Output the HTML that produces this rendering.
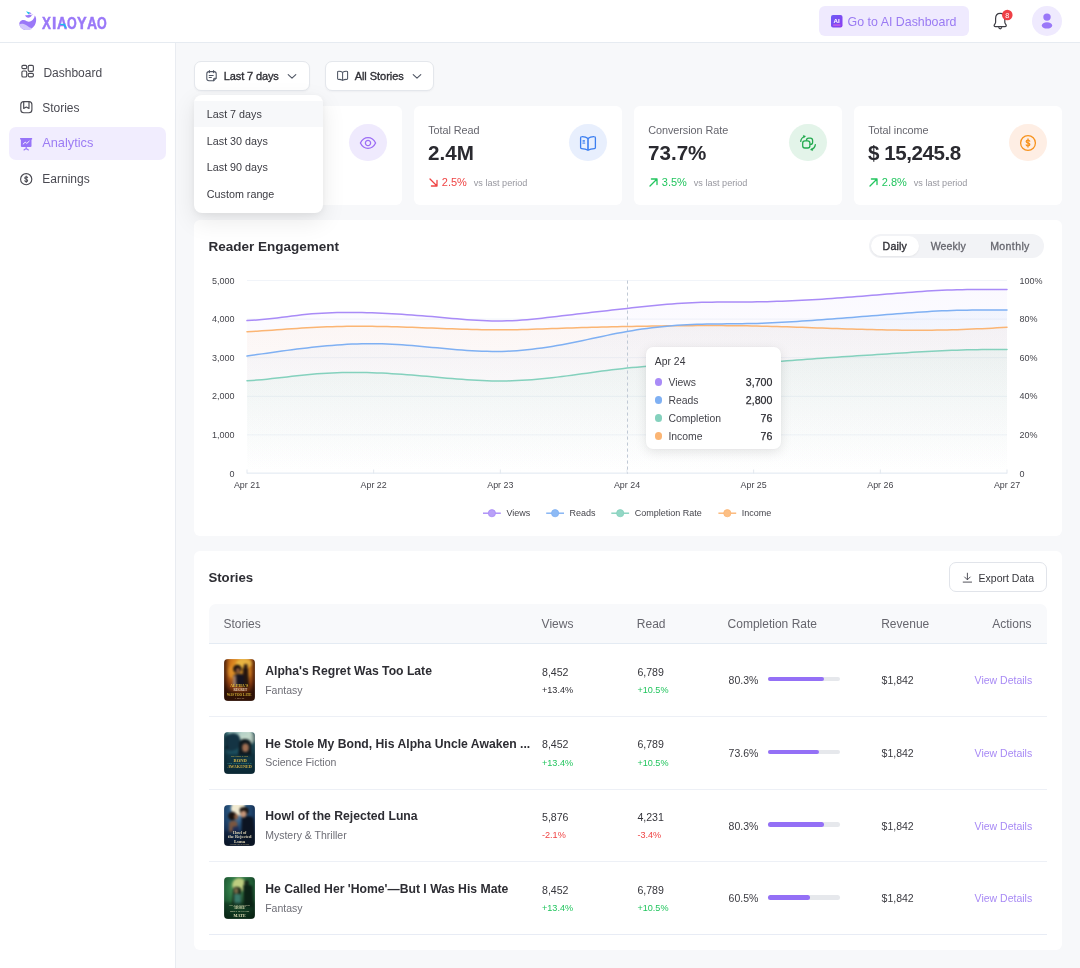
<!DOCTYPE html>
<html><head><meta charset="utf-8"><title>Analytics</title>
<style>
html,body{margin:0;padding:0;}
body{width:1080px;height:968px;position:relative;overflow:hidden;background:#f7f8fa;font-family:"Liberation Sans", Arial, sans-serif;-webkit-font-smoothing:antialiased;}
.t{position:absolute;white-space:nowrap;line-height:1;}
.b{position:absolute;}
.cov{border-radius:4px;overflow:hidden;}
.ct{position:absolute;left:0;right:0;bottom:4px;text-align:center;font-family:"Liberation Serif",serif;font-weight:700;font-size:4.2px;line-height:1.05;letter-spacing:-0.1px;}
</style></head><body>
<div class="b" style="left:0px;top:0px;width:1080px;height:42px;background:#fff;"></div>
<div class="b" style="left:0px;top:42px;width:1080px;height:1px;background:#e6ebf1;"></div>
<svg class="b" style="left:17px;top:9px" width="22" height="24" viewBox="17 9 22 24">
<path d="M34.67 15.55 C36.2 17.2 36.4 19.5 36 21.5 C35.3 26.5 31.2 30.1 26.6 30.0 C22.5 29.9 19.4 27 19.3 23.4 C19.6 21.8 20.5 20.6 22 20.2 C23.8 19.8 25.4 20.5 26.8 21.2 C28.2 21.8 29.8 21.8 31.2 21.0 C33.4 19.8 34.6 17.8 34.67 15.55 Z" fill="#9a78f8"/>
<path d="M19.34 24.3 C20.5 23.6 22.2 23.5 23.7 23.9 C25 24.3 26.2 25 27.2 25.7 C28.6 26.8 30 27.6 31.2 28 C31.8 28.3 32.2 28.6 32.4 28.85 C30.8 29.8 28.8 30.2 26.6 30.1 C22.7 29.9 19.8 27.6 19.34 24.3 Z" fill="#d2c7fc"/>
<path d="M25.1 15.3 C27.5 15.2 30 15 31.6 14.8 L33.6 14.3 L31.5 15.6 C31.2 16.9 29.9 17.8 28.3 17.8 C26.8 17.8 25.6 16.8 25.1 15.3 Z" fill="#9a78f8"/>
<path d="M26 11.2 L30.2 12.4 L28.6 14.4 Z" fill="#1fc9e8"/>
<path d="M29.6 12.2 L31.6 13.2 L30 14.6 L28.8 14.3 Z" fill="#a98af9"/>
</svg>
<div class="t" style="left:41.5px;top:15.69px;font-size:15.6px;font-weight:700;color:#9a78f8;-webkit-text-stroke:0.45px #9a78f8;transform:scaleX(0.86);transform-origin:0 0;">X</div>
<div class="t" style="left:52.1px;top:15.69px;font-size:15.6px;font-weight:700;color:#9a78f8;-webkit-text-stroke:0.45px #9a78f8;transform:scaleX(1.00);transform-origin:0 0;">I</div>
<div class="t" style="left:57.0px;top:15.69px;font-size:15.6px;font-weight:700;color:#9a78f8;-webkit-text-stroke:0.45px #9a78f8;transform:scaleX(0.90);transform-origin:0 0;">A</div>
<div class="t" style="left:67.1px;top:15.69px;font-size:15.6px;font-weight:700;color:#9a78f8;-webkit-text-stroke:0.45px #9a78f8;transform:scaleX(0.80);transform-origin:0 0;">O</div>
<div class="t" style="left:77.0px;top:15.69px;font-size:15.6px;font-weight:700;color:#9a78f8;-webkit-text-stroke:0.45px #9a78f8;transform:scaleX(0.93);transform-origin:0 0;">Y</div>
<div class="t" style="left:87.0px;top:15.69px;font-size:15.6px;font-weight:700;color:#9a78f8;-webkit-text-stroke:0.45px #9a78f8;transform:scaleX(0.90);transform-origin:0 0;">A</div>
<div class="t" style="left:97.1px;top:15.69px;font-size:15.6px;font-weight:700;color:#9a78f8;-webkit-text-stroke:0.45px #9a78f8;transform:scaleX(0.80);transform-origin:0 0;">O</div>
<svg class="b" style="left:55px;top:20px" width="14" height="10" viewBox="55 20 14 10"><path d="M60.2 23.7 L64.7 23.7 L66.9 27.8 L64.7 27.8 L63.4 25.1 L60.2 25.1 Z" fill="#19b8f0"/></svg>
<div class="b" style="left:819px;top:6px;width:150px;height:30px;background:#efeafe;border-radius:6px;"></div>
<svg class="b" style="left:831px;top:15px" width="12" height="13" viewBox="0 0 12 13">
<defs><linearGradient id="aig" x1="0" y1="0" x2="1" y2="1"><stop offset="0" stop-color="#6d5cf6"/><stop offset="1" stop-color="#8b3cf0"/></linearGradient></defs>
<rect x="0" y="0" width="11.5" height="12.6" rx="2" fill="url(#aig)"/>
<text x="5.7" y="7.8" font-family="Liberation Sans, Arial, sans-serif" font-size="6.2" font-weight="700" fill="#fff" text-anchor="middle">AI</text>
<rect x="2.2" y="9.6" width="7.2" height="0.9" fill="#f06bd8"/>
</svg>
<div class="t" style="top:16.20px;font-size:12.4px;color:#9a7af3;left:847.60px;">Go to AI Dashboard</div>
<svg class="b" style="left:990px;top:8px" width="25" height="24" viewBox="990 8 25 24">
<path d="M1000.2 13.4 C996.9 13.4 995.6 16 995.6 18.6 L995.6 22.2 C995.6 23.6 994.1 24.4 994.1 25.6 C994.1 26.3 994.6 26.6 995.3 26.6 L1005.1 26.6 C1005.8 26.6 1006.3 26.3 1006.3 25.6 C1006.3 24.4 1004.8 23.6 1004.8 22.2 L1004.8 18.6 C1004.8 16 1003.5 13.4 1000.2 13.4 Z" fill="none" stroke="#3d3d44" stroke-width="1.2" stroke-linejoin="round"/>
<path d="M998.6 27.2 C998.9 28.3 999.5 28.8 1000.2 28.8 C1000.9 28.8 1001.5 28.3 1001.8 27.2" fill="none" stroke="#3d3d44" stroke-width="1.2"/>
<circle cx="1007.3" cy="15" r="5.3" fill="#ef4046"/>
<text x="1007.3" y="17.6" font-family="Liberation Sans, Arial, sans-serif" font-size="7.2" fill="#fff" text-anchor="middle">8</text>
</svg>
<svg class="b" style="left:1032px;top:6px" width="30" height="30" viewBox="0 0 30 30">
<circle cx="15" cy="15" r="15" fill="#efeafe"/>
<circle cx="15" cy="11.1" r="3.7" fill="#9a78f8"/>
<ellipse cx="15" cy="19.4" rx="5.2" ry="3.2" fill="#9a78f8"/>
</svg>
<div class="b" style="left:0px;top:43px;width:175px;height:925px;background:#fff;"></div>
<div class="b" style="left:175px;top:43px;width:1px;height:925px;background:#e9ecf1;"></div>
<div class="b" style="left:176px;top:43px;width:904px;height:925px;background:#f7f8fa;"></div>
<div class="b" style="left:9px;top:127px;width:157px;height:33px;background:#f1edfe;border-radius:7px;"></div>
<svg class="b" style="left:20px;top:64px" width="16" height="15" viewBox="20 64 16 15">
<g fill="none" stroke="#4a4a52" stroke-width="1.15">
<rect x="21.9" y="65.4" width="4.8" height="3.2" rx="1.2"/>
<rect x="21.9" y="71" width="4.8" height="6" rx="1.3"/>
<rect x="28.2" y="65.4" width="5.2" height="6" rx="1.3"/>
<rect x="28.2" y="73.4" width="5.2" height="3.4" rx="1.2"/>
</g></svg>
<div class="t" style="top:66.94px;font-size:12px;color:#4a4a52;left:43.40px;">Dashboard</div>
<svg class="b" style="left:19px;top:100px" width="15" height="15" viewBox="19 100 15 15">
<g fill="none" stroke="#4a4a52" stroke-width="1.15" stroke-linejoin="round">
<rect x="20.8" y="101.6" width="11.1" height="11.2" rx="3"/>
<path d="M23.7 101.6 L23.7 108.4 L26.3 107 L29 108.4 L29 101.6"/>
</g></svg>
<div class="t" style="top:102.14px;font-size:12px;color:#4a4a52;left:42.20px;">Stories</div>
<svg class="b" style="left:19px;top:136px" width="15" height="16" viewBox="19 136 15 16">
<rect x="20" y="138" width="12.2" height="1.6" rx="0.5" fill="#9774f8"/>
<rect x="20.9" y="138.5" width="10.6" height="8.4" rx="1" fill="#9774f8"/>
<path d="M23.2 144 L25.2 142.2 L26.8 143.4 L29.2 141.2" fill="none" stroke="#fff" stroke-width="0.9" stroke-linecap="round" stroke-linejoin="round"/>
<path d="M26.2 146.8 L26.2 148.4 M24 150 L26.2 148.4 L28.4 150" fill="none" stroke="#9774f8" stroke-width="1.1" stroke-linecap="round"/>
</svg>
<div class="t" style="top:137.26px;font-size:12.8px;color:#9c7cf4;left:42.20px;">Analytics</div>
<svg class="b" style="left:19px;top:172px" width="15" height="15" viewBox="19 172 15 15">
<circle cx="26.2" cy="179.2" r="5.6" fill="none" stroke="#4a4a52" stroke-width="1.15"/>
<path transform="translate(26.2 179.2) scale(0.78)" d="M1.8 -1.9 C1.6 -2.7 0.9 -3.1 0 -3.1 C-1.1 -3.1 -1.9 -2.5 -1.9 -1.6 C-1.9 -0.7 -1.1 -0.3 0 0 C1.1 0.3 1.9 0.7 1.9 1.6 C1.9 2.5 1.1 3.1 0 3.1 C-0.9 3.1 -1.7 2.7 -1.9 1.9 M0 -4.2 L0 4.2" fill="none" stroke="#4a4a52" stroke-width="1.35" stroke-linecap="round"/>
</svg>
<div class="t" style="top:173.44px;font-size:12px;color:#4a4a52;left:42.30px;">Earnings</div>
<div class="b" style="left:194px;top:61px;width:116px;height:30px;background:#fff;border:1px solid #e4e7ec;border-radius:7px;box-sizing:border-box;box-shadow:0 1px 2px rgba(16,24,40,.04);"></div>
<div class="b" style="left:325px;top:61px;width:109px;height:30px;background:#fff;border:1px solid #e4e7ec;border-radius:7px;box-sizing:border-box;box-shadow:0 1px 2px rgba(16,24,40,.04);"></div>
<svg class="b" style="left:205px;top:69px" width="13" height="14" viewBox="205 69 13 14">
<g fill="none" stroke="#4e5563" stroke-width="1.05" stroke-linecap="round" stroke-linejoin="round">
<path d="M213.6 80.8 L209 80.8 C207.6 80.8 206.8 80 206.8 78.6 L206.8 73.8 C206.8 72.4 207.6 71.6 209 71.6 L214 71.6 C215.4 71.6 216.2 72.4 216.2 73.8 L216.2 78.2 Z"/>
<path d="M209.4 70.4 L209.4 72.6 M213.6 70.4 L213.6 72.6"/>
<path d="M209.2 75.4 L213.2 75.4 M209.2 77.5 L211.4 77.5"/>
<path d="M213.6 80.6 L213.6 79.2 C213.6 78.6 214 78.2 214.6 78.2 L216 78.2"/>
</g></svg>
<div class="t" style="top:71.39px;font-size:11px;color:#303036;letter-spacing:-0.12px;left:223.80px;-webkit-text-stroke:0.35px #303036;">Last 7 days</div>
<svg class="b" style="left:287px;top:72.5px" width="10" height="7" viewBox="0 0 10 7"><path d="M1.2 1.6 L5 5.2 L8.8 1.6" fill="none" stroke="#4e5563" stroke-width="1.1" stroke-linecap="round" stroke-linejoin="round"/></svg>
<svg class="b" style="left:336px;top:70px" width="13" height="12" viewBox="336 70 13 12">
<g fill="none" stroke="#4e5563" stroke-width="1.05" stroke-linejoin="round">
<path d="M342.6 72.4 C341.4 71.5 339.9 71.2 338.4 71.3 C337.9 71.3 337.6 71.7 337.6 72.2 L337.6 78.6 C337.6 79.1 338 79.4 338.5 79.4 C340 79.3 341.4 79.6 342.6 80.4 C343.8 79.6 345.2 79.3 346.7 79.4 C347.2 79.4 347.6 79.1 347.6 78.6 L347.6 72.2 C347.6 71.7 347.3 71.3 346.8 71.3 C345.3 71.2 343.8 71.5 342.6 72.4 Z"/>
<path d="M342.6 72.4 L342.6 80.2"/>
</g></svg>
<div class="t" style="top:71.39px;font-size:11px;color:#303036;letter-spacing:-0.05px;left:354.70px;-webkit-text-stroke:0.35px #303036;">All Stories</div>
<svg class="b" style="left:411.5px;top:72.5px" width="10" height="7" viewBox="0 0 10 7"><path d="M1.2 1.6 L5 5.2 L8.8 1.6" fill="none" stroke="#4e5563" stroke-width="1.1" stroke-linecap="round" stroke-linejoin="round"/></svg>
<div class="b" style="left:194px;top:106px;width:208px;height:99px;background:#fff;border-radius:6px;"></div>
<div class="t" style="top:125.02px;font-size:10.85px;color:#66666e;letter-spacing:-0.05px;left:208.20px;">Total Views</div>
<div class="t" style="top:142.56px;font-size:20.6px;color:#2a2a30;font-weight:700;letter-spacing:0px;left:208.00px;">1.2M</div>
<svg class="b" style="left:207.6px;top:177.2px" width="11" height="11" viewBox="0 0 11 11"><path d="M2 9 L9 2 M3.4 2 L9 2 L9 7.6" fill="none" stroke="#22c55e" stroke-width="1.3" stroke-linecap="round" stroke-linejoin="round"/></svg>
<div class="t" style="top:176.89px;font-size:11px;color:#22c55e;left:221.80px;">12.5%</div>
<div class="t" style="top:178.70px;font-size:9.1px;color:#97979f;left:253.80px;">vs last period</div>
<div class="b" style="left:349.3px;top:123.8px;width:37.4px;height:37.4px;border-radius:50%;background:#efeafd;"></div>
<svg class="b" style="left:358px;top:132.5px;overflow:visible" width="20" height="20" viewBox="-10 -10 20 20"><path d="M-7.6 0 C-5.8 -3.6 -3 -5.3 0 -5.3 C3 -5.3 5.8 -3.6 7.6 0 C5.8 3.6 3 5.3 0 5.3 C-3 5.3 -5.8 3.6 -7.6 0 Z" fill="none" stroke="#9c6cf5" stroke-width="1.3"/>
<circle cx="0" cy="0" r="2.6" fill="none" stroke="#9c6cf5" stroke-width="1.3"/></svg>
<div class="b" style="left:414px;top:106px;width:208px;height:99px;background:#fff;border-radius:6px;"></div>
<div class="t" style="top:125.02px;font-size:10.85px;color:#66666e;letter-spacing:-0.05px;left:428.20px;">Total Read</div>
<div class="t" style="top:142.56px;font-size:20.6px;color:#2a2a30;font-weight:700;letter-spacing:0px;left:428.00px;">2.4M</div>
<svg class="b" style="left:427.6px;top:177.2px" width="11" height="11" viewBox="0 0 11 11"><path d="M2 2 L9 9 M3.4 9 L9 9 L9 3.4" fill="none" stroke="#ef4444" stroke-width="1.3" stroke-linecap="round" stroke-linejoin="round"/></svg>
<div class="t" style="top:176.89px;font-size:11px;color:#ef4444;left:441.80px;">2.5%</div>
<div class="t" style="top:178.70px;font-size:9.1px;color:#97979f;left:473.80px;">vs last period</div>
<div class="b" style="left:569.3px;top:123.8px;width:37.4px;height:37.4px;border-radius:50%;background:#e8effd;"></div>
<svg class="b" style="left:578px;top:132.5px;overflow:visible" width="20" height="20" viewBox="-10 -10 20 20"><path d="M0 -4.6 C-1.8 -6 -4 -6.4 -6.3 -6.3 C-7 -6.3 -7.4 -5.8 -7.4 -5.1 L-7.4 4.6 C-7.4 5.2 -7 5.6 -6.4 5.6 C-4 5.6 -1.8 6 0 7.3 C1.8 6 4 5.6 6.4 5.6 C7 5.6 7.4 5.2 7.4 4.6 L7.4 -5.1 C7.4 -5.8 7 -6.3 6.3 -6.3 C4 -6.4 1.8 -6 0 -4.6 Z" fill="none" stroke="#3b7ef0" stroke-width="1.3" stroke-linejoin="round"/>
<path d="M0 -4.6 L0 7" stroke="#3b7ef0" stroke-width="1.6"/>
<path d="M-5.4 -2.4 L-3.1 -2.4 M-5.4 -1.2 L-3.1 -1.2 M-5.6 0.2 L-2.8 0.2" stroke="#3b7ef0" stroke-width="0.9"/></svg>
<div class="b" style="left:634px;top:106px;width:208px;height:99px;background:#fff;border-radius:6px;"></div>
<div class="t" style="top:125.02px;font-size:10.85px;color:#66666e;letter-spacing:-0.05px;left:648.20px;">Conversion Rate</div>
<div class="t" style="top:142.56px;font-size:20.6px;color:#2a2a30;font-weight:700;letter-spacing:0px;left:648.00px;">73.7%</div>
<svg class="b" style="left:647.6px;top:177.2px" width="11" height="11" viewBox="0 0 11 11"><path d="M2 9 L9 2 M3.4 2 L9 2 L9 7.6" fill="none" stroke="#22c55e" stroke-width="1.3" stroke-linecap="round" stroke-linejoin="round"/></svg>
<div class="t" style="top:176.89px;font-size:11px;color:#22c55e;left:661.80px;">3.5%</div>
<div class="t" style="top:178.70px;font-size:9.1px;color:#97979f;left:693.80px;">vs last period</div>
<div class="b" style="left:789.3px;top:123.8px;width:37.4px;height:37.4px;border-radius:50%;background:#e3f4e9;"></div>
<svg class="b" style="left:798px;top:132.5px;overflow:visible" width="20" height="20" viewBox="-10 -10 20 20"><rect x="-5.3" y="-2.2" width="7.2" height="7.2" rx="2.2" fill="none" stroke="#22a94e" stroke-width="1.3"/>
<path d="M-1.6 -2.2 L-1.6 -2.6 C-1.6 -4 -0.8 -4.8 0.6 -4.8 L2.4 -4.8 C3.8 -4.8 4.6 -4 4.6 -2.6 L4.6 -0.8 C4.6 0.6 3.8 1.4 2.4 1.4 L1.9 1.4" fill="none" stroke="#22a94e" stroke-width="1.3"/>
<path d="M-7.3 -1.6 C-7 -4 -5.6 -5.8 -3.2 -6.5" fill="none" stroke="#22a94e" stroke-width="1.3" stroke-linecap="round"/>
<path d="M-4.6 -7.6 L-2.7 -6.7 L-4.3 -5.2 Z" fill="#22a94e" stroke="#22a94e" stroke-width="0.6" stroke-linejoin="round"/>
<path d="M7.3 1.6 C7 4 5.6 5.8 3.2 6.5" fill="none" stroke="#22a94e" stroke-width="1.3" stroke-linecap="round"/>
<path d="M4.6 7.6 L2.7 6.7 L4.3 5.2 Z" fill="#22a94e" stroke="#22a94e" stroke-width="0.6" stroke-linejoin="round"/></svg>
<div class="b" style="left:854px;top:106px;width:208px;height:99px;background:#fff;border-radius:6px;"></div>
<div class="t" style="top:125.02px;font-size:10.85px;color:#66666e;letter-spacing:-0.05px;left:868.20px;">Total income</div>
<div class="t" style="top:142.56px;font-size:20.6px;color:#2a2a30;font-weight:700;letter-spacing:-0.45px;left:868.00px;">$ 15,245.8</div>
<svg class="b" style="left:867.6px;top:177.2px" width="11" height="11" viewBox="0 0 11 11"><path d="M2 9 L9 2 M3.4 2 L9 2 L9 7.6" fill="none" stroke="#22c55e" stroke-width="1.3" stroke-linecap="round" stroke-linejoin="round"/></svg>
<div class="t" style="top:176.89px;font-size:11px;color:#22c55e;left:881.80px;">2.8%</div>
<div class="t" style="top:178.70px;font-size:9.1px;color:#97979f;left:913.80px;">vs last period</div>
<div class="b" style="left:1009.3px;top:123.8px;width:37.4px;height:37.4px;border-radius:50%;background:#feeee4;"></div>
<svg class="b" style="left:1018px;top:132.5px;overflow:visible" width="20" height="20" viewBox="-10 -10 20 20"><circle cx="0" cy="0" r="7.4" fill="none" stroke="#f7931e" stroke-width="1.3"/>
<path transform="scale(0.95)" d="M1.8 -1.9 C1.6 -2.7 0.9 -3.1 0 -3.1 C-1.1 -3.1 -1.9 -2.5 -1.9 -1.6 C-1.9 -0.7 -1.1 -0.3 0 0 C1.1 0.3 1.9 0.7 1.9 1.6 C1.9 2.5 1.1 3.1 0 3.1 C-0.9 3.1 -1.7 2.7 -1.9 1.9 M0 -4.2 L0 4.2" fill="none" stroke="#f7931e" stroke-width="1.4" stroke-linecap="round"/></svg>
<div class="b" style="left:194px;top:220px;width:868px;height:316px;background:#fff;border-radius:6px;"></div>
<div class="t" style="top:239.97px;font-size:13.5px;color:#2d2d33;font-weight:700;left:208.40px;">Reader Engagement</div>
<div class="b" style="left:869px;top:234px;width:175px;height:24px;background:#f2f3f6;border-radius:12px;"></div>
<div class="b" style="left:870.5px;top:236px;width:48.5px;height:20px;background:#fff;border-radius:10px;box-shadow:0 1px 2px rgba(0,0,0,.06);"></div>
<div class="t" style="top:241.23px;font-size:10.6px;color:#2f2f35;letter-spacing:0.15px;left:882.60px;-webkit-text-stroke:0.35px #2f2f35;">Daily</div>
<div class="t" style="top:241.23px;font-size:10.6px;color:#66666e;letter-spacing:0.1px;left:930.70px;-webkit-text-stroke:0.3px #66666e;">Weekly</div>
<div class="t" style="top:241.23px;font-size:10.6px;color:#66666e;letter-spacing:0.35px;left:990.20px;-webkit-text-stroke:0.3px #66666e;">Monthly</div>
<svg class="b" style="left:194px;top:220px" width="868" height="316" viewBox="194 220 868 316">
<defs>
<linearGradient id="g_views" x1="0" y1="0" x2="0" y2="1"><stop offset="0" stop-color="#a98bf7" stop-opacity="0.05"/><stop offset="0.5" stop-color="#a98bf7" stop-opacity="0.0150"/><stop offset="1" stop-color="#a98bf7" stop-opacity="0.0"/></linearGradient>
<linearGradient id="g_reads" x1="0" y1="0" x2="0" y2="1"><stop offset="0" stop-color="#7fb0f3" stop-opacity="0.08"/><stop offset="0.5" stop-color="#7fb0f3" stop-opacity="0.0320"/><stop offset="1" stop-color="#7fb0f3" stop-opacity="0.0"/></linearGradient>
<linearGradient id="g_comp" x1="0" y1="0" x2="0" y2="1"><stop offset="0" stop-color="#84d1bd" stop-opacity="0.1"/><stop offset="0.5" stop-color="#84d1bd" stop-opacity="0.0450"/><stop offset="1" stop-color="#84d1bd" stop-opacity="0.0"/></linearGradient>
<linearGradient id="g_income" x1="0" y1="0" x2="0" y2="1"><stop offset="0" stop-color="#fbb574" stop-opacity="0.07"/><stop offset="0.5" stop-color="#fbb574" stop-opacity="0.0315"/><stop offset="1" stop-color="#fbb574" stop-opacity="0.0"/></linearGradient>
</defs>
<line x1="247.0" y1="280.50" x2="1007.0" y2="280.50" stroke="#f1f4f9" stroke-width="1"/>
<line x1="247.0" y1="319.10" x2="1007.0" y2="319.10" stroke="#f1f4f9" stroke-width="1"/>
<line x1="247.0" y1="357.70" x2="1007.0" y2="357.70" stroke="#f1f4f9" stroke-width="1"/>
<line x1="247.0" y1="396.30" x2="1007.0" y2="396.30" stroke="#f1f4f9" stroke-width="1"/>
<line x1="247.0" y1="434.90" x2="1007.0" y2="434.90" stroke="#f1f4f9" stroke-width="1"/>
<line x1="247.0" y1="473.50" x2="1007.0" y2="473.50" stroke="#f1f4f9" stroke-width="1"/>
<path d="M247.00 320.60 L252.00 320.35 L257.00 320.00 L262.00 319.57 L267.00 319.06 L272.00 318.51 L277.00 317.91 L282.00 317.29 L287.00 316.66 L292.00 316.03 L297.00 315.43 L302.00 314.85 L307.00 314.33 L312.00 313.86 L317.00 313.47 L322.00 313.15 L327.00 312.89 L332.00 312.69 L337.00 312.55 L342.00 312.47 L347.00 312.43 L352.00 312.44 L357.00 312.49 L362.00 312.58 L367.00 312.71 L372.00 312.86 L377.00 313.05 L382.00 313.26 L387.00 313.49 L392.00 313.75 L397.00 314.03 L402.00 314.34 L407.00 314.66 L412.00 315.01 L417.00 315.38 L422.00 315.76 L427.00 316.16 L432.00 316.59 L437.00 317.02 L442.00 317.47 L447.00 317.93 L452.00 318.39 L457.00 318.83 L462.00 319.26 L467.00 319.66 L472.00 320.02 L477.00 320.34 L482.00 320.61 L487.00 320.82 L492.00 320.95 L497.00 321.01 L502.00 320.98 L507.00 320.86 L512.00 320.66 L517.00 320.38 L522.00 320.04 L527.00 319.64 L532.00 319.18 L537.00 318.69 L542.00 318.16 L547.00 317.60 L552.00 317.02 L557.00 316.42 L562.00 315.83 L567.00 315.23 L572.00 314.64 L577.00 314.06 L582.00 313.48 L587.00 312.91 L592.00 312.34 L597.00 311.77 L602.00 311.20 L607.00 310.64 L612.00 310.08 L617.00 309.53 L622.00 308.97 L627.00 308.42 L632.00 307.86 L637.00 307.31 L642.00 306.77 L647.00 306.24 L652.00 305.73 L657.00 305.24 L662.00 304.77 L667.00 304.33 L672.00 303.92 L677.00 303.55 L682.00 303.22 L687.00 302.93 L692.00 302.69 L697.00 302.50 L702.00 302.35 L707.00 302.24 L712.00 302.16 L717.00 302.10 L722.00 302.06 L727.00 302.04 L732.00 302.02 L737.00 302.01 L742.00 301.99 L747.00 301.96 L752.00 301.92 L757.00 301.86 L762.00 301.77 L767.00 301.66 L772.00 301.53 L777.00 301.37 L782.00 301.20 L787.00 301.00 L792.00 300.79 L797.00 300.56 L802.00 300.31 L807.00 300.04 L812.00 299.76 L817.00 299.46 L822.00 299.14 L827.00 298.81 L832.00 298.47 L837.00 298.11 L842.00 297.74 L847.00 297.36 L852.00 296.98 L857.00 296.58 L862.00 296.18 L867.00 295.78 L872.00 295.36 L877.00 294.95 L882.00 294.53 L887.00 294.12 L892.00 293.70 L897.00 293.29 L902.00 292.89 L907.00 292.50 L912.00 292.13 L917.00 291.76 L922.00 291.42 L927.00 291.10 L932.00 290.81 L937.00 290.54 L942.00 290.30 L947.00 290.09 L952.00 289.92 L957.00 289.77 L962.00 289.66 L967.00 289.56 L972.00 289.49 L977.00 289.44 L982.00 289.41 L987.00 289.38 L992.00 289.38 L997.00 289.38 L1002.00 289.38 L1007.00 289.39 L1007.0 473.5 L247.0 473.5 Z" fill="url(#g_views)"/>
<path d="M247.00 356.10 L252.00 355.35 L257.00 354.61 L262.00 353.88 L267.00 353.15 L272.00 352.44 L277.00 351.74 L282.00 351.05 L287.00 350.38 L292.00 349.73 L297.00 349.09 L302.00 348.48 L307.00 347.89 L312.00 347.33 L317.00 346.79 L322.00 346.28 L327.00 345.81 L332.00 345.38 L337.00 344.98 L342.00 344.63 L347.00 344.33 L352.00 344.08 L357.00 343.88 L362.00 343.74 L367.00 343.67 L372.00 343.65 L377.00 343.71 L382.00 343.83 L387.00 344.00 L392.00 344.24 L397.00 344.52 L402.00 344.84 L407.00 345.21 L412.00 345.60 L417.00 346.02 L422.00 346.46 L427.00 346.92 L432.00 347.39 L437.00 347.86 L442.00 348.33 L447.00 348.79 L452.00 349.24 L457.00 349.66 L462.00 350.06 L467.00 350.42 L472.00 350.74 L477.00 351.00 L482.00 351.22 L487.00 351.37 L492.00 351.45 L497.00 351.46 L502.00 351.38 L507.00 351.22 L512.00 350.97 L517.00 350.64 L522.00 350.24 L527.00 349.76 L532.00 349.22 L537.00 348.61 L542.00 347.93 L547.00 347.19 L552.00 346.40 L557.00 345.55 L562.00 344.65 L567.00 343.71 L572.00 342.73 L577.00 341.71 L582.00 340.67 L587.00 339.61 L592.00 338.54 L597.00 337.47 L602.00 336.41 L607.00 335.36 L612.00 334.34 L617.00 333.35 L622.00 332.39 L627.00 331.49 L632.00 330.64 L637.00 329.84 L642.00 329.10 L647.00 328.41 L652.00 327.77 L657.00 327.19 L662.00 326.66 L667.00 326.18 L672.00 325.75 L677.00 325.37 L682.00 325.04 L687.00 324.76 L692.00 324.53 L697.00 324.34 L702.00 324.20 L707.00 324.08 L712.00 324.00 L717.00 323.93 L722.00 323.88 L727.00 323.84 L732.00 323.80 L737.00 323.75 L742.00 323.69 L747.00 323.62 L752.00 323.52 L757.00 323.39 L762.00 323.23 L767.00 323.04 L772.00 322.83 L777.00 322.59 L782.00 322.33 L787.00 322.05 L792.00 321.75 L797.00 321.43 L802.00 321.10 L807.00 320.76 L812.00 320.41 L817.00 320.05 L822.00 319.69 L827.00 319.32 L832.00 318.94 L837.00 318.57 L842.00 318.18 L847.00 317.80 L852.00 317.41 L857.00 317.01 L862.00 316.62 L867.00 316.22 L872.00 315.82 L877.00 315.41 L882.00 315.00 L887.00 314.60 L892.00 314.19 L897.00 313.79 L902.00 313.40 L907.00 313.01 L912.00 312.64 L917.00 312.29 L922.00 311.95 L927.00 311.64 L932.00 311.35 L937.00 311.09 L942.00 310.85 L947.00 310.65 L952.00 310.49 L957.00 310.35 L962.00 310.23 L967.00 310.14 L972.00 310.07 L977.00 310.02 L982.00 309.98 L987.00 309.95 L992.00 309.93 L997.00 309.92 L1002.00 309.91 L1007.00 309.90 L1007.0 473.5 L247.0 473.5 Z" fill="url(#g_reads)"/>
<path d="M247.00 380.79 L252.00 380.47 L257.00 380.08 L262.00 379.63 L267.00 379.13 L272.00 378.60 L277.00 378.04 L282.00 377.46 L287.00 376.88 L292.00 376.30 L297.00 375.74 L302.00 375.20 L307.00 374.70 L312.00 374.25 L317.00 373.85 L322.00 373.50 L327.00 373.20 L332.00 372.96 L337.00 372.76 L342.00 372.61 L347.00 372.51 L352.00 372.46 L357.00 372.46 L362.00 372.50 L367.00 372.59 L372.00 372.72 L377.00 372.90 L382.00 373.11 L387.00 373.37 L392.00 373.66 L397.00 373.98 L402.00 374.33 L407.00 374.70 L412.00 375.09 L417.00 375.50 L422.00 375.93 L427.00 376.36 L432.00 376.81 L437.00 377.25 L442.00 377.70 L447.00 378.14 L452.00 378.57 L457.00 378.98 L462.00 379.37 L467.00 379.73 L472.00 380.05 L477.00 380.34 L482.00 380.58 L487.00 380.77 L492.00 380.90 L497.00 380.97 L502.00 380.98 L507.00 380.91 L512.00 380.77 L517.00 380.57 L522.00 380.31 L527.00 380.00 L532.00 379.63 L537.00 379.21 L542.00 378.75 L547.00 378.24 L552.00 377.70 L557.00 377.12 L562.00 376.51 L567.00 375.88 L572.00 375.22 L577.00 374.54 L582.00 373.86 L587.00 373.16 L592.00 372.47 L597.00 371.79 L602.00 371.11 L607.00 370.45 L612.00 369.82 L617.00 369.21 L622.00 368.63 L627.00 368.10 L632.00 367.61 L637.00 367.16 L642.00 366.75 L647.00 366.37 L652.00 366.04 L657.00 365.73 L662.00 365.46 L667.00 365.22 L672.00 365.00 L677.00 364.81 L682.00 364.64 L687.00 364.49 L692.00 364.35 L697.00 364.24 L702.00 364.13 L707.00 364.03 L712.00 363.93 L717.00 363.84 L722.00 363.74 L727.00 363.63 L732.00 363.52 L737.00 363.39 L742.00 363.24 L747.00 363.06 L752.00 362.87 L757.00 362.64 L762.00 362.39 L767.00 362.11 L772.00 361.81 L777.00 361.48 L782.00 361.15 L787.00 360.80 L792.00 360.43 L797.00 360.07 L802.00 359.69 L807.00 359.32 L812.00 358.95 L817.00 358.58 L822.00 358.22 L827.00 357.86 L832.00 357.52 L837.00 357.17 L842.00 356.84 L847.00 356.50 L852.00 356.18 L857.00 355.85 L862.00 355.53 L867.00 355.21 L872.00 354.88 L877.00 354.56 L882.00 354.24 L887.00 353.92 L892.00 353.60 L897.00 353.28 L902.00 352.97 L907.00 352.66 L912.00 352.36 L917.00 352.06 L922.00 351.78 L927.00 351.50 L932.00 351.24 L937.00 350.99 L942.00 350.76 L947.00 350.54 L952.00 350.34 L957.00 350.15 L962.00 349.99 L967.00 349.85 L972.00 349.73 L977.00 349.63 L982.00 349.56 L987.00 349.51 L992.00 349.49 L997.00 349.50 L1002.00 349.54 L1007.00 349.60 L1007.0 473.5 L247.0 473.5 Z" fill="url(#g_comp)"/>
<path d="M247.00 331.70 L252.00 331.45 L257.00 331.18 L262.00 330.87 L267.00 330.54 L272.00 330.19 L277.00 329.83 L282.00 329.47 L287.00 329.11 L292.00 328.75 L297.00 328.40 L302.00 328.07 L307.00 327.77 L312.00 327.49 L317.00 327.24 L322.00 327.02 L327.00 326.84 L332.00 326.68 L337.00 326.55 L342.00 326.45 L347.00 326.37 L352.00 326.32 L357.00 326.29 L362.00 326.29 L367.00 326.31 L372.00 326.36 L377.00 326.42 L382.00 326.50 L387.00 326.61 L392.00 326.72 L397.00 326.86 L402.00 327.00 L407.00 327.16 L412.00 327.33 L417.00 327.51 L422.00 327.69 L427.00 327.88 L432.00 328.07 L437.00 328.26 L442.00 328.46 L447.00 328.65 L452.00 328.83 L457.00 329.01 L462.00 329.18 L467.00 329.33 L472.00 329.47 L477.00 329.60 L482.00 329.70 L487.00 329.78 L492.00 329.83 L497.00 329.86 L502.00 329.85 L507.00 329.82 L512.00 329.75 L517.00 329.66 L522.00 329.55 L527.00 329.42 L532.00 329.27 L537.00 329.11 L542.00 328.94 L547.00 328.77 L552.00 328.59 L557.00 328.41 L562.00 328.24 L567.00 328.07 L572.00 327.91 L577.00 327.75 L582.00 327.61 L587.00 327.46 L592.00 327.33 L597.00 327.20 L602.00 327.07 L607.00 326.95 L612.00 326.84 L617.00 326.73 L622.00 326.62 L627.00 326.52 L632.00 326.43 L637.00 326.33 L642.00 326.24 L647.00 326.16 L652.00 326.08 L657.00 326.00 L662.00 325.93 L667.00 325.87 L672.00 325.81 L677.00 325.76 L682.00 325.71 L687.00 325.67 L692.00 325.64 L697.00 325.61 L702.00 325.59 L707.00 325.58 L712.00 325.58 L717.00 325.59 L722.00 325.61 L727.00 325.63 L732.00 325.67 L737.00 325.72 L742.00 325.78 L747.00 325.85 L752.00 325.94 L757.00 326.04 L762.00 326.15 L767.00 326.27 L772.00 326.41 L777.00 326.55 L782.00 326.70 L787.00 326.86 L792.00 327.03 L797.00 327.20 L802.00 327.37 L807.00 327.54 L812.00 327.72 L817.00 327.89 L822.00 328.07 L827.00 328.24 L832.00 328.41 L837.00 328.58 L842.00 328.74 L847.00 328.90 L852.00 329.05 L857.00 329.19 L862.00 329.33 L867.00 329.47 L872.00 329.59 L877.00 329.71 L882.00 329.81 L887.00 329.91 L892.00 329.99 L897.00 330.07 L902.00 330.13 L907.00 330.17 L912.00 330.20 L917.00 330.22 L922.00 330.22 L927.00 330.20 L932.00 330.16 L937.00 330.09 L942.00 330.01 L947.00 329.91 L952.00 329.78 L957.00 329.63 L962.00 329.47 L967.00 329.28 L972.00 329.08 L977.00 328.86 L982.00 328.63 L987.00 328.39 L992.00 328.13 L997.00 327.86 L1002.00 327.58 L1007.00 327.29 L1007.0 473.5 L247.0 473.5 Z" fill="url(#g_income)"/>
<line x1="247.0" y1="473.0" x2="1007.0" y2="473.0" stroke="#e6ecf3" stroke-width="1"/>
<line x1="247.00" y1="469.5" x2="247.00" y2="473.5" stroke="#e3e8ef" stroke-width="1"/>
<line x1="373.67" y1="469.5" x2="373.67" y2="473.5" stroke="#e3e8ef" stroke-width="1"/>
<line x1="500.33" y1="469.5" x2="500.33" y2="473.5" stroke="#e3e8ef" stroke-width="1"/>
<line x1="627.00" y1="469.5" x2="627.00" y2="473.5" stroke="#e3e8ef" stroke-width="1"/>
<line x1="753.67" y1="469.5" x2="753.67" y2="473.5" stroke="#e3e8ef" stroke-width="1"/>
<line x1="880.33" y1="469.5" x2="880.33" y2="473.5" stroke="#e3e8ef" stroke-width="1"/>
<line x1="1007.00" y1="469.5" x2="1007.00" y2="473.5" stroke="#e3e8ef" stroke-width="1"/>
<line x1="627.5" y1="280.5" x2="627.5" y2="473.5" stroke="#c0c9d5" stroke-width="1" stroke-dasharray="3.2 2.8"/>
<path d="M247.00 320.60 L252.00 320.35 L257.00 320.00 L262.00 319.57 L267.00 319.06 L272.00 318.51 L277.00 317.91 L282.00 317.29 L287.00 316.66 L292.00 316.03 L297.00 315.43 L302.00 314.85 L307.00 314.33 L312.00 313.86 L317.00 313.47 L322.00 313.15 L327.00 312.89 L332.00 312.69 L337.00 312.55 L342.00 312.47 L347.00 312.43 L352.00 312.44 L357.00 312.49 L362.00 312.58 L367.00 312.71 L372.00 312.86 L377.00 313.05 L382.00 313.26 L387.00 313.49 L392.00 313.75 L397.00 314.03 L402.00 314.34 L407.00 314.66 L412.00 315.01 L417.00 315.38 L422.00 315.76 L427.00 316.16 L432.00 316.59 L437.00 317.02 L442.00 317.47 L447.00 317.93 L452.00 318.39 L457.00 318.83 L462.00 319.26 L467.00 319.66 L472.00 320.02 L477.00 320.34 L482.00 320.61 L487.00 320.82 L492.00 320.95 L497.00 321.01 L502.00 320.98 L507.00 320.86 L512.00 320.66 L517.00 320.38 L522.00 320.04 L527.00 319.64 L532.00 319.18 L537.00 318.69 L542.00 318.16 L547.00 317.60 L552.00 317.02 L557.00 316.42 L562.00 315.83 L567.00 315.23 L572.00 314.64 L577.00 314.06 L582.00 313.48 L587.00 312.91 L592.00 312.34 L597.00 311.77 L602.00 311.20 L607.00 310.64 L612.00 310.08 L617.00 309.53 L622.00 308.97 L627.00 308.42 L632.00 307.86 L637.00 307.31 L642.00 306.77 L647.00 306.24 L652.00 305.73 L657.00 305.24 L662.00 304.77 L667.00 304.33 L672.00 303.92 L677.00 303.55 L682.00 303.22 L687.00 302.93 L692.00 302.69 L697.00 302.50 L702.00 302.35 L707.00 302.24 L712.00 302.16 L717.00 302.10 L722.00 302.06 L727.00 302.04 L732.00 302.02 L737.00 302.01 L742.00 301.99 L747.00 301.96 L752.00 301.92 L757.00 301.86 L762.00 301.77 L767.00 301.66 L772.00 301.53 L777.00 301.37 L782.00 301.20 L787.00 301.00 L792.00 300.79 L797.00 300.56 L802.00 300.31 L807.00 300.04 L812.00 299.76 L817.00 299.46 L822.00 299.14 L827.00 298.81 L832.00 298.47 L837.00 298.11 L842.00 297.74 L847.00 297.36 L852.00 296.98 L857.00 296.58 L862.00 296.18 L867.00 295.78 L872.00 295.36 L877.00 294.95 L882.00 294.53 L887.00 294.12 L892.00 293.70 L897.00 293.29 L902.00 292.89 L907.00 292.50 L912.00 292.13 L917.00 291.76 L922.00 291.42 L927.00 291.10 L932.00 290.81 L937.00 290.54 L942.00 290.30 L947.00 290.09 L952.00 289.92 L957.00 289.77 L962.00 289.66 L967.00 289.56 L972.00 289.49 L977.00 289.44 L982.00 289.41 L987.00 289.38 L992.00 289.38 L997.00 289.38 L1002.00 289.38 L1007.00 289.39" fill="none" stroke="#a98bf7" stroke-width="1.5" stroke-linecap="round"/>
<path d="M247.00 331.70 L252.00 331.45 L257.00 331.18 L262.00 330.87 L267.00 330.54 L272.00 330.19 L277.00 329.83 L282.00 329.47 L287.00 329.11 L292.00 328.75 L297.00 328.40 L302.00 328.07 L307.00 327.77 L312.00 327.49 L317.00 327.24 L322.00 327.02 L327.00 326.84 L332.00 326.68 L337.00 326.55 L342.00 326.45 L347.00 326.37 L352.00 326.32 L357.00 326.29 L362.00 326.29 L367.00 326.31 L372.00 326.36 L377.00 326.42 L382.00 326.50 L387.00 326.61 L392.00 326.72 L397.00 326.86 L402.00 327.00 L407.00 327.16 L412.00 327.33 L417.00 327.51 L422.00 327.69 L427.00 327.88 L432.00 328.07 L437.00 328.26 L442.00 328.46 L447.00 328.65 L452.00 328.83 L457.00 329.01 L462.00 329.18 L467.00 329.33 L472.00 329.47 L477.00 329.60 L482.00 329.70 L487.00 329.78 L492.00 329.83 L497.00 329.86 L502.00 329.85 L507.00 329.82 L512.00 329.75 L517.00 329.66 L522.00 329.55 L527.00 329.42 L532.00 329.27 L537.00 329.11 L542.00 328.94 L547.00 328.77 L552.00 328.59 L557.00 328.41 L562.00 328.24 L567.00 328.07 L572.00 327.91 L577.00 327.75 L582.00 327.61 L587.00 327.46 L592.00 327.33 L597.00 327.20 L602.00 327.07 L607.00 326.95 L612.00 326.84 L617.00 326.73 L622.00 326.62 L627.00 326.52 L632.00 326.43 L637.00 326.33 L642.00 326.24 L647.00 326.16 L652.00 326.08 L657.00 326.00 L662.00 325.93 L667.00 325.87 L672.00 325.81 L677.00 325.76 L682.00 325.71 L687.00 325.67 L692.00 325.64 L697.00 325.61 L702.00 325.59 L707.00 325.58 L712.00 325.58 L717.00 325.59 L722.00 325.61 L727.00 325.63 L732.00 325.67 L737.00 325.72 L742.00 325.78 L747.00 325.85 L752.00 325.94 L757.00 326.04 L762.00 326.15 L767.00 326.27 L772.00 326.41 L777.00 326.55 L782.00 326.70 L787.00 326.86 L792.00 327.03 L797.00 327.20 L802.00 327.37 L807.00 327.54 L812.00 327.72 L817.00 327.89 L822.00 328.07 L827.00 328.24 L832.00 328.41 L837.00 328.58 L842.00 328.74 L847.00 328.90 L852.00 329.05 L857.00 329.19 L862.00 329.33 L867.00 329.47 L872.00 329.59 L877.00 329.71 L882.00 329.81 L887.00 329.91 L892.00 329.99 L897.00 330.07 L902.00 330.13 L907.00 330.17 L912.00 330.20 L917.00 330.22 L922.00 330.22 L927.00 330.20 L932.00 330.16 L937.00 330.09 L942.00 330.01 L947.00 329.91 L952.00 329.78 L957.00 329.63 L962.00 329.47 L967.00 329.28 L972.00 329.08 L977.00 328.86 L982.00 328.63 L987.00 328.39 L992.00 328.13 L997.00 327.86 L1002.00 327.58 L1007.00 327.29" fill="none" stroke="#fbb574" stroke-width="1.5" stroke-linecap="round"/>
<path d="M247.00 356.10 L252.00 355.35 L257.00 354.61 L262.00 353.88 L267.00 353.15 L272.00 352.44 L277.00 351.74 L282.00 351.05 L287.00 350.38 L292.00 349.73 L297.00 349.09 L302.00 348.48 L307.00 347.89 L312.00 347.33 L317.00 346.79 L322.00 346.28 L327.00 345.81 L332.00 345.38 L337.00 344.98 L342.00 344.63 L347.00 344.33 L352.00 344.08 L357.00 343.88 L362.00 343.74 L367.00 343.67 L372.00 343.65 L377.00 343.71 L382.00 343.83 L387.00 344.00 L392.00 344.24 L397.00 344.52 L402.00 344.84 L407.00 345.21 L412.00 345.60 L417.00 346.02 L422.00 346.46 L427.00 346.92 L432.00 347.39 L437.00 347.86 L442.00 348.33 L447.00 348.79 L452.00 349.24 L457.00 349.66 L462.00 350.06 L467.00 350.42 L472.00 350.74 L477.00 351.00 L482.00 351.22 L487.00 351.37 L492.00 351.45 L497.00 351.46 L502.00 351.38 L507.00 351.22 L512.00 350.97 L517.00 350.64 L522.00 350.24 L527.00 349.76 L532.00 349.22 L537.00 348.61 L542.00 347.93 L547.00 347.19 L552.00 346.40 L557.00 345.55 L562.00 344.65 L567.00 343.71 L572.00 342.73 L577.00 341.71 L582.00 340.67 L587.00 339.61 L592.00 338.54 L597.00 337.47 L602.00 336.41 L607.00 335.36 L612.00 334.34 L617.00 333.35 L622.00 332.39 L627.00 331.49 L632.00 330.64 L637.00 329.84 L642.00 329.10 L647.00 328.41 L652.00 327.77 L657.00 327.19 L662.00 326.66 L667.00 326.18 L672.00 325.75 L677.00 325.37 L682.00 325.04 L687.00 324.76 L692.00 324.53 L697.00 324.34 L702.00 324.20 L707.00 324.08 L712.00 324.00 L717.00 323.93 L722.00 323.88 L727.00 323.84 L732.00 323.80 L737.00 323.75 L742.00 323.69 L747.00 323.62 L752.00 323.52 L757.00 323.39 L762.00 323.23 L767.00 323.04 L772.00 322.83 L777.00 322.59 L782.00 322.33 L787.00 322.05 L792.00 321.75 L797.00 321.43 L802.00 321.10 L807.00 320.76 L812.00 320.41 L817.00 320.05 L822.00 319.69 L827.00 319.32 L832.00 318.94 L837.00 318.57 L842.00 318.18 L847.00 317.80 L852.00 317.41 L857.00 317.01 L862.00 316.62 L867.00 316.22 L872.00 315.82 L877.00 315.41 L882.00 315.00 L887.00 314.60 L892.00 314.19 L897.00 313.79 L902.00 313.40 L907.00 313.01 L912.00 312.64 L917.00 312.29 L922.00 311.95 L927.00 311.64 L932.00 311.35 L937.00 311.09 L942.00 310.85 L947.00 310.65 L952.00 310.49 L957.00 310.35 L962.00 310.23 L967.00 310.14 L972.00 310.07 L977.00 310.02 L982.00 309.98 L987.00 309.95 L992.00 309.93 L997.00 309.92 L1002.00 309.91 L1007.00 309.90" fill="none" stroke="#7fb0f3" stroke-width="1.5" stroke-linecap="round"/>
<path d="M247.00 380.79 L252.00 380.47 L257.00 380.08 L262.00 379.63 L267.00 379.13 L272.00 378.60 L277.00 378.04 L282.00 377.46 L287.00 376.88 L292.00 376.30 L297.00 375.74 L302.00 375.20 L307.00 374.70 L312.00 374.25 L317.00 373.85 L322.00 373.50 L327.00 373.20 L332.00 372.96 L337.00 372.76 L342.00 372.61 L347.00 372.51 L352.00 372.46 L357.00 372.46 L362.00 372.50 L367.00 372.59 L372.00 372.72 L377.00 372.90 L382.00 373.11 L387.00 373.37 L392.00 373.66 L397.00 373.98 L402.00 374.33 L407.00 374.70 L412.00 375.09 L417.00 375.50 L422.00 375.93 L427.00 376.36 L432.00 376.81 L437.00 377.25 L442.00 377.70 L447.00 378.14 L452.00 378.57 L457.00 378.98 L462.00 379.37 L467.00 379.73 L472.00 380.05 L477.00 380.34 L482.00 380.58 L487.00 380.77 L492.00 380.90 L497.00 380.97 L502.00 380.98 L507.00 380.91 L512.00 380.77 L517.00 380.57 L522.00 380.31 L527.00 380.00 L532.00 379.63 L537.00 379.21 L542.00 378.75 L547.00 378.24 L552.00 377.70 L557.00 377.12 L562.00 376.51 L567.00 375.88 L572.00 375.22 L577.00 374.54 L582.00 373.86 L587.00 373.16 L592.00 372.47 L597.00 371.79 L602.00 371.11 L607.00 370.45 L612.00 369.82 L617.00 369.21 L622.00 368.63 L627.00 368.10 L632.00 367.61 L637.00 367.16 L642.00 366.75 L647.00 366.37 L652.00 366.04 L657.00 365.73 L662.00 365.46 L667.00 365.22 L672.00 365.00 L677.00 364.81 L682.00 364.64 L687.00 364.49 L692.00 364.35 L697.00 364.24 L702.00 364.13 L707.00 364.03 L712.00 363.93 L717.00 363.84 L722.00 363.74 L727.00 363.63 L732.00 363.52 L737.00 363.39 L742.00 363.24 L747.00 363.06 L752.00 362.87 L757.00 362.64 L762.00 362.39 L767.00 362.11 L772.00 361.81 L777.00 361.48 L782.00 361.15 L787.00 360.80 L792.00 360.43 L797.00 360.07 L802.00 359.69 L807.00 359.32 L812.00 358.95 L817.00 358.58 L822.00 358.22 L827.00 357.86 L832.00 357.52 L837.00 357.17 L842.00 356.84 L847.00 356.50 L852.00 356.18 L857.00 355.85 L862.00 355.53 L867.00 355.21 L872.00 354.88 L877.00 354.56 L882.00 354.24 L887.00 353.92 L892.00 353.60 L897.00 353.28 L902.00 352.97 L907.00 352.66 L912.00 352.36 L917.00 352.06 L922.00 351.78 L927.00 351.50 L932.00 351.24 L937.00 350.99 L942.00 350.76 L947.00 350.54 L952.00 350.34 L957.00 350.15 L962.00 349.99 L967.00 349.85 L972.00 349.73 L977.00 349.63 L982.00 349.56 L987.00 349.51 L992.00 349.49 L997.00 349.50 L1002.00 349.54 L1007.00 349.60" fill="none" stroke="#84d1bd" stroke-width="1.5" stroke-linecap="round"/>
<text x="234.6" y="283.60" font-family="Liberation Sans, Arial, sans-serif" font-size="9" fill="#45454c" text-anchor="end">5,000</text>
<text x="1019.4" y="283.60" font-family="Liberation Sans, Arial, sans-serif" font-size="9" fill="#45454c">100%</text>
<text x="234.6" y="322.20" font-family="Liberation Sans, Arial, sans-serif" font-size="9" fill="#45454c" text-anchor="end">4,000</text>
<text x="1019.4" y="322.20" font-family="Liberation Sans, Arial, sans-serif" font-size="9" fill="#45454c">80%</text>
<text x="234.6" y="360.80" font-family="Liberation Sans, Arial, sans-serif" font-size="9" fill="#45454c" text-anchor="end">3,000</text>
<text x="1019.4" y="360.80" font-family="Liberation Sans, Arial, sans-serif" font-size="9" fill="#45454c">60%</text>
<text x="234.6" y="399.40" font-family="Liberation Sans, Arial, sans-serif" font-size="9" fill="#45454c" text-anchor="end">2,000</text>
<text x="1019.4" y="399.40" font-family="Liberation Sans, Arial, sans-serif" font-size="9" fill="#45454c">40%</text>
<text x="234.6" y="438.00" font-family="Liberation Sans, Arial, sans-serif" font-size="9" fill="#45454c" text-anchor="end">1,000</text>
<text x="1019.4" y="438.00" font-family="Liberation Sans, Arial, sans-serif" font-size="9" fill="#45454c">20%</text>
<text x="234.6" y="476.60" font-family="Liberation Sans, Arial, sans-serif" font-size="9" fill="#45454c" text-anchor="end">0</text>
<text x="1019.4" y="476.60" font-family="Liberation Sans, Arial, sans-serif" font-size="9" fill="#45454c">0</text>
<text x="247.00" y="487.8" font-family="Liberation Sans, Arial, sans-serif" font-size="8.9" fill="#45454c" text-anchor="middle">Apr 21</text>
<text x="373.67" y="487.8" font-family="Liberation Sans, Arial, sans-serif" font-size="8.9" fill="#45454c" text-anchor="middle">Apr 22</text>
<text x="500.33" y="487.8" font-family="Liberation Sans, Arial, sans-serif" font-size="8.9" fill="#45454c" text-anchor="middle">Apr 23</text>
<text x="627.00" y="487.8" font-family="Liberation Sans, Arial, sans-serif" font-size="8.9" fill="#45454c" text-anchor="middle">Apr 24</text>
<text x="753.67" y="487.8" font-family="Liberation Sans, Arial, sans-serif" font-size="8.9" fill="#45454c" text-anchor="middle">Apr 25</text>
<text x="880.33" y="487.8" font-family="Liberation Sans, Arial, sans-serif" font-size="8.9" fill="#45454c" text-anchor="middle">Apr 26</text>
<text x="1007.00" y="487.8" font-family="Liberation Sans, Arial, sans-serif" font-size="8.9" fill="#45454c" text-anchor="middle">Apr 27</text>
<line x1="483" y1="513.2" x2="500.8" y2="513.2" stroke="#a98bf7" stroke-width="1.4"/>
<circle cx="491.9" cy="513.2" r="3.6" fill="#b9a1f8" stroke="#a98bf7" stroke-width="0.8"/>
<text x="506.4" y="516.4" font-family="Liberation Sans, Arial, sans-serif" font-size="9" fill="#45454c">Views</text>
<line x1="546.2" y1="513.2" x2="564.0" y2="513.2" stroke="#7fb0f3" stroke-width="1.4"/>
<circle cx="555.1" cy="513.2" r="3.6" fill="#8dbaf5" stroke="#7fb0f3" stroke-width="0.8"/>
<text x="569.6" y="516.4" font-family="Liberation Sans, Arial, sans-serif" font-size="9" fill="#45454c">Reads</text>
<line x1="611.3" y1="513.2" x2="629.0999999999999" y2="513.2" stroke="#84d1bd" stroke-width="1.4"/>
<circle cx="620.1999999999999" cy="513.2" r="3.6" fill="#93d7c5" stroke="#84d1bd" stroke-width="0.8"/>
<text x="634.6999999999999" y="516.4" font-family="Liberation Sans, Arial, sans-serif" font-size="9" fill="#45454c">Completion Rate</text>
<line x1="718.4" y1="513.2" x2="736.1999999999999" y2="513.2" stroke="#fbb574" stroke-width="1.4"/>
<circle cx="727.3" cy="513.2" r="3.6" fill="#fcbf85" stroke="#fbb574" stroke-width="0.8"/>
<text x="741.8" y="516.4" font-family="Liberation Sans, Arial, sans-serif" font-size="9" fill="#45454c">Income</text>
</svg>
<div class="b" style="left:646px;top:347px;width:135px;height:102px;background:#fff;border-radius:7px;box-shadow:0 3px 12px rgba(0,0,0,.10),0 0 2px rgba(0,0,0,.04);"></div>
<div class="t" style="top:357.20px;font-size:10.4px;color:#3a3a40;left:654.80px;">Apr 24</div>
<div class="b" style="left:654.8px;top:378.20px;width:7.4px;height:7.4px;border-radius:50%;background:#a98bf7;"></div>
<div class="t" style="top:377.60px;font-size:10.4px;color:#45454c;left:668.40px;">Views</div>
<div class="t" style="top:376.73px;font-size:10.6px;color:#2d2d33;right:307.70px;text-align:right;-webkit-text-stroke:0.25px #2d2d33;">3,700</div>
<div class="b" style="left:654.8px;top:396.20px;width:7.4px;height:7.4px;border-radius:50%;background:#7fb0f3;"></div>
<div class="t" style="top:395.60px;font-size:10.4px;color:#45454c;left:668.40px;">Reads</div>
<div class="t" style="top:394.73px;font-size:10.6px;color:#2d2d33;right:307.70px;text-align:right;-webkit-text-stroke:0.25px #2d2d33;">2,800</div>
<div class="b" style="left:654.8px;top:414.20px;width:7.4px;height:7.4px;border-radius:50%;background:#84d1bd;"></div>
<div class="t" style="top:413.60px;font-size:10.4px;color:#45454c;left:668.40px;">Completion</div>
<div class="t" style="top:412.73px;font-size:10.6px;color:#2d2d33;right:307.70px;text-align:right;-webkit-text-stroke:0.25px #2d2d33;">76</div>
<div class="b" style="left:654.8px;top:432.20px;width:7.4px;height:7.4px;border-radius:50%;background:#fbb574;"></div>
<div class="t" style="top:431.60px;font-size:10.4px;color:#45454c;left:668.40px;">Income</div>
<div class="t" style="top:430.73px;font-size:10.6px;color:#2d2d33;right:307.70px;text-align:right;-webkit-text-stroke:0.25px #2d2d33;">76</div>
<div class="b" style="left:194px;top:551px;width:868px;height:399px;background:#fff;border-radius:6px;"></div>
<div class="t" style="top:571.13px;font-size:13.2px;color:#2d2d33;font-weight:700;left:208.40px;">Stories</div>
<div class="b" style="left:949px;top:562px;width:98px;height:30px;background:#fff;border:1px solid #e1e4ea;border-radius:7px;box-sizing:border-box;"></div>
<svg class="b" style="left:962px;top:572px" width="11" height="12" viewBox="0 0 11 12">
<path d="M5.4 1.2 L5.4 7.6 M2.6 5 L5.4 7.8 L8.2 5 M1.2 10.1 L9.6 10.1" fill="none" stroke="#4a4a52" stroke-width="0.95" stroke-linecap="round" stroke-linejoin="round"/>
</svg>
<div class="t" style="top:573.31px;font-size:10.5px;color:#35353b;left:978.60px;">Export Data</div>
<div class="b" style="left:209px;top:603.5px;width:838px;height:40px;background:#f8f9fb;border-radius:7px 7px 0 0;"></div>
<div class="b" style="left:209px;top:643px;width:838px;height:1px;background:#e4ebf3;"></div>
<div class="t" style="top:617.84px;font-size:12px;color:#66666e;left:223.40px;">Stories</div>
<div class="t" style="top:617.84px;font-size:12px;color:#66666e;left:541.60px;">Views</div>
<div class="t" style="top:617.84px;font-size:12px;color:#66666e;left:636.80px;">Read</div>
<div class="t" style="top:617.84px;font-size:12px;color:#66666e;left:727.60px;">Completion Rate</div>
<div class="t" style="top:617.84px;font-size:12px;color:#66666e;left:881.20px;">Revenue</div>
<div class="t" style="top:617.84px;font-size:12px;color:#66666e;right:48.40px;text-align:right;">Actions</div>
<div class="b" style="left:209px;top:715.75px;width:838px;height:1px;background:#edf0f6;"></div>
<div class="b cov" style="left:223.6px;top:659.00px;width:31.4px;height:41.8px;"><svg width="33.4" height="43.8" viewBox="-1 -1 33 43.6" preserveAspectRatio="none" style="position:absolute;left:-1px;top:-1px;filter:blur(1px)">
<defs>
<radialGradient id="c1a" cx="0.5" cy="0.22" r="0.62"><stop offset="0" stop-color="#ffc13a"/><stop offset="0.4" stop-color="#e98a1e"/><stop offset="0.75" stop-color="#9a4412"/><stop offset="1" stop-color="#3a1608"/></radialGradient>
<linearGradient id="c1v" x1="0" y1="0" x2="1" y2="0"><stop offset="0" stop-color="#1e0a04" stop-opacity="0.95"/><stop offset="0.2" stop-color="#2a1006" stop-opacity="0.1"/><stop offset="0.8" stop-color="#2a1006" stop-opacity="0.1"/><stop offset="1" stop-color="#1e0a04" stop-opacity="0.95"/></linearGradient>
</defs>
<rect x="-2" y="-2" width="35" height="46" fill="url(#c1a)"/>
<ellipse cx="20" cy="4.5" rx="8" ry="5" fill="#ffd050" opacity="0.8"/>
<ellipse cx="7.5" cy="13" rx="4" ry="6" fill="#f7a431" opacity="0.7"/>
<ellipse cx="24" cy="14" rx="3" ry="5" fill="#f09a2a" opacity="0.6"/>
<rect x="-2" y="-2" width="35" height="46" fill="url(#c1v)"/>
<path d="M18.6 9 C19.5 8 23 8 23.8 9.5 L24.8 28 L18.2 29 Z" fill="#24150e"/>
<circle cx="21.4" cy="7" r="2.1" fill="#2e1a12"/>
<path d="M9 17 C10 14.5 17 14 19.6 16 L20.4 27 L8.6 27.4 Z" fill="#161420"/>
<path d="M9 17 L12 16.2 L12.2 27 L8.6 27.2 Z" fill="#9a7a66"/>
<circle cx="13.2" cy="10" r="4.2" fill="#1a100c"/>
<ellipse cx="13.8" cy="11.4" rx="2.1" ry="2.6" fill="#8a5a3c"/>
<rect x="-2" y="33" width="35" height="11" fill="#2a1006" opacity="0.6"/>
</svg><svg width="31.4" height="41.8" viewBox="0 0 31 41.6" preserveAspectRatio="none" style="position:absolute;left:0;top:0;opacity:0.92"><text x="15" y="27.6" font-size="4.6" fill="#f0c838" textLength="18" font-family="Liberation Serif, serif" font-weight="700" text-anchor="middle" lengthAdjust="spacingAndGlyphs">ALPHA'S</text>
<text x="16.2" y="32" font-size="4.6" fill="#ece2d0" textLength="13.5" font-family="Liberation Serif, serif" font-weight="700" text-anchor="middle" lengthAdjust="spacingAndGlyphs">REGRET</text>
<text x="15" y="36.4" font-size="4.2" fill="#e8c43c" textLength="24" font-family="Liberation Serif, serif" font-weight="700" text-anchor="middle" lengthAdjust="spacingAndGlyphs">WAS TOO LATE</text>
<text x="15.5" y="39.4" font-size="1.6" fill="#c8a880" textLength="10" font-family="Liberation Serif, serif" font-weight="700" text-anchor="middle" lengthAdjust="spacingAndGlyphs">A NOVEL</text>
</svg></div>
<div class="t" style="top:664.97px;font-size:12.2px;color:#2d2d33;font-weight:700;left:265.20px;">Alpha's Regret Was Too Late</div>
<div class="t" style="top:684.61px;font-size:10.5px;color:#6e6e76;left:265.20px;">Fantasy</div>
<div class="t" style="top:666.73px;font-size:10.6px;color:#35353b;left:542.00px;">8,452</div>
<div class="t" style="top:685.80px;font-size:9.1px;color:#2d2d33;left:542.00px;">+13.4%</div>
<div class="t" style="top:666.73px;font-size:10.6px;color:#35353b;left:637.40px;">6,789</div>
<div class="t" style="top:685.80px;font-size:9.1px;color:#22c55e;left:637.40px;">+10.5%</div>
<div class="t" style="top:675.01px;font-size:10.5px;color:#3a3a40;left:728.60px;">80.3%</div>
<div class="b" style="left:768.2px;top:676.90px;width:71.5px;height:4.6px;border-radius:3px;background:#e6e8ec;"></div>
<div class="b" style="left:768.2px;top:676.90px;width:55.6px;height:4.6px;border-radius:3px;background:#9470f6;"></div>
<div class="t" style="top:675.01px;font-size:10.5px;color:#3a3a40;left:881.60px;">$1,842</div>
<div class="t" style="top:675.01px;font-size:10.5px;color:#a88af5;right:47.80px;text-align:right;">View Details</div>
<div class="b" style="left:209px;top:788.5px;width:838px;height:1px;background:#edf0f6;"></div>
<div class="b cov" style="left:223.6px;top:731.75px;width:31.4px;height:41.8px;"><svg width="33.4" height="43.8" viewBox="-1 -1 33 43.6" preserveAspectRatio="none" style="position:absolute;left:-1px;top:-1px;filter:blur(1px)">
<defs>
<linearGradient id="c2a" x1="0" y1="0" x2="0" y2="1"><stop offset="0" stop-color="#4a8890"/><stop offset="0.45" stop-color="#1d5060"/><stop offset="1" stop-color="#0a2430"/></linearGradient>
<linearGradient id="c2v" x1="0" y1="0" x2="1" y2="0"><stop offset="0" stop-color="#061820" stop-opacity="0.8"/><stop offset="0.2" stop-color="#061820" stop-opacity="0"/><stop offset="0.8" stop-color="#061820" stop-opacity="0"/><stop offset="1" stop-color="#061820" stop-opacity="0.8"/></linearGradient>
</defs>
<rect x="-2" y="-2" width="35" height="46" fill="url(#c2a)"/>
<ellipse cx="22" cy="6" rx="9" ry="7.5" fill="#cfe2d2" opacity="0.9"/>
<ellipse cx="14" cy="1" rx="10" ry="3" fill="#b4d0c8" opacity="0.7"/>
<path d="M1 6 C4 1 10 0 14 3 C17 6 17 12 14 16 C11 19 5 20 2 17 Z" fill="#143444"/>
<path d="M3 13 L0 17 L5 16 Z" fill="#0e2430"/>
<path d="M15 12 C15 8 18 7 21 7 C25 7 28 10 27 16 L27 24 L14 24 Z" fill="#0e181e"/>
<ellipse cx="21.2" cy="15.6" rx="3.3" ry="4.2" fill="#a06e52"/>
<rect x="-2" y="-2" width="35" height="46" fill="url(#c2v)"/>
<rect x="-2" y="22" width="35" height="22" fill="#0a2834" opacity="0.5"/>
</svg><svg width="31.4" height="41.8" viewBox="0 0 31 41.6" preserveAspectRatio="none" style="position:absolute;left:0;top:0;opacity:0.92"><text x="15.5" y="24.8" font-size="2.8" fill="#d8b84a" textLength="17" font-family="Liberation Serif, serif" font-weight="700" text-anchor="middle" lengthAdjust="spacingAndGlyphs">HE STOLE MY</text>
<text x="16" y="29.4" font-size="5" fill="#e6c04c" textLength="13" font-family="Liberation Serif, serif" font-weight="700" text-anchor="middle" lengthAdjust="spacingAndGlyphs">BOND</text>
<text x="15.5" y="32.2" font-size="2.4" fill="#4aaaa2" textLength="24" font-family="Liberation Serif, serif" font-weight="700" text-anchor="middle" lengthAdjust="spacingAndGlyphs">HIS ALPHA UNCLE</text>
<text x="15.5" y="36.2" font-size="4" fill="#dcb848" textLength="24" font-family="Liberation Serif, serif" font-weight="700" text-anchor="middle" lengthAdjust="spacingAndGlyphs">AWAKENED</text>
</svg></div>
<div class="t" style="top:737.72px;font-size:12.2px;color:#2d2d33;font-weight:700;left:265.20px;">He Stole My Bond, His Alpha Uncle Awaken ...</div>
<div class="t" style="top:757.36px;font-size:10.5px;color:#6e6e76;left:265.20px;">Science Fiction</div>
<div class="t" style="top:739.48px;font-size:10.6px;color:#35353b;left:542.00px;">8,452</div>
<div class="t" style="top:758.55px;font-size:9.1px;color:#22c55e;left:542.00px;">+13.4%</div>
<div class="t" style="top:739.48px;font-size:10.6px;color:#35353b;left:637.40px;">6,789</div>
<div class="t" style="top:758.55px;font-size:9.1px;color:#22c55e;left:637.40px;">+10.5%</div>
<div class="t" style="top:747.76px;font-size:10.5px;color:#3a3a40;left:728.60px;">73.6%</div>
<div class="b" style="left:768.2px;top:749.65px;width:71.5px;height:4.6px;border-radius:3px;background:#e6e8ec;"></div>
<div class="b" style="left:768.2px;top:749.65px;width:50.8px;height:4.6px;border-radius:3px;background:#9470f6;"></div>
<div class="t" style="top:747.76px;font-size:10.5px;color:#3a3a40;left:881.60px;">$1,842</div>
<div class="t" style="top:747.76px;font-size:10.5px;color:#a88af5;right:47.80px;text-align:right;">View Details</div>
<div class="b" style="left:209px;top:861.25px;width:838px;height:1px;background:#edf0f6;"></div>
<div class="b cov" style="left:223.6px;top:804.50px;width:31.4px;height:41.8px;"><svg width="33.4" height="43.8" viewBox="-1 -1 33 43.6" preserveAspectRatio="none" style="position:absolute;left:-1px;top:-1px;filter:blur(1px)">
<defs>
<radialGradient id="c3a" cx="0.45" cy="0.2" r="0.75"><stop offset="0" stop-color="#6690b8"/><stop offset="0.35" stop-color="#26547f"/><stop offset="0.75" stop-color="#12284a"/><stop offset="1" stop-color="#0a1628"/></radialGradient>
</defs>
<rect x="-2" y="-2" width="35" height="46" fill="url(#c3a)"/>
<circle cx="14" cy="3.4" r="7.2" fill="#f1ead0"/>
<path d="M17.4 12 C19 10 26 10 29 13 L31 42 L17 42 Z" fill="#0c1422"/>
<path d="M15.4 4.2 C16 1.8 21 1 23.8 3.2 C24.6 5 24.2 8 23.4 9.4 L16 9 Z" fill="#181210"/>
<ellipse cx="19.2" cy="9" rx="3" ry="3.4" fill="#c49478"/>
<path d="M5 18 C6 15 11 15 13 17 L14 27 L5 27 Z" fill="#7a5640"/>
<path d="M8.6 22 L14.4 21 L15 27 L8.4 27 Z" fill="#1e2e56"/>
<circle cx="8.2" cy="11" r="4.2" fill="#1a120e"/>
<ellipse cx="12" cy="11.8" rx="2" ry="2.8" fill="#8c5e42"/>
<rect x="-2" y="26" width="35" height="18" fill="#0a1628" opacity="0.4"/>
</svg><svg width="31.4" height="41.8" viewBox="0 0 31 41.6" preserveAspectRatio="none" style="position:absolute;left:0;top:0;opacity:0.92"><text x="15.5" y="28.6" font-size="4.2" fill="#ece0bc" textLength="13" font-family="Liberation Serif, serif" font-weight="700" text-anchor="middle" lengthAdjust="spacingAndGlyphs">Howl of</text>
<text x="15.5" y="33" font-size="4.6" fill="#efe4c4" textLength="23" font-family="Liberation Serif, serif" font-weight="700" text-anchor="middle" lengthAdjust="spacingAndGlyphs">the Rejected</text>
<text x="15.5" y="37.4" font-size="4.4" fill="#ece0bc" textLength="11" font-family="Liberation Serif, serif" font-weight="700" text-anchor="middle" lengthAdjust="spacingAndGlyphs">Luna</text>
<text x="15.5" y="40" font-size="1.6" fill="#b8ab88" textLength="20" font-family="Liberation Serif, serif" font-weight="700" text-anchor="middle" lengthAdjust="spacingAndGlyphs">A ROMANCE NOVEL</text>
</svg></div>
<div class="t" style="top:810.47px;font-size:12.2px;color:#2d2d33;font-weight:700;left:265.20px;">Howl of the Rejected Luna</div>
<div class="t" style="top:830.11px;font-size:10.5px;color:#6e6e76;left:265.20px;">Mystery &amp; Thriller</div>
<div class="t" style="top:812.23px;font-size:10.6px;color:#35353b;left:542.00px;">5,876</div>
<div class="t" style="top:831.30px;font-size:9.1px;color:#ef4444;left:542.00px;">-2.1%</div>
<div class="t" style="top:812.23px;font-size:10.6px;color:#35353b;left:637.40px;">4,231</div>
<div class="t" style="top:831.30px;font-size:9.1px;color:#ef4444;left:637.40px;">-3.4%</div>
<div class="t" style="top:820.51px;font-size:10.5px;color:#3a3a40;left:728.60px;">80.3%</div>
<div class="b" style="left:768.2px;top:822.40px;width:71.5px;height:4.6px;border-radius:3px;background:#e6e8ec;"></div>
<div class="b" style="left:768.2px;top:822.40px;width:55.6px;height:4.6px;border-radius:3px;background:#9470f6;"></div>
<div class="t" style="top:820.51px;font-size:10.5px;color:#3a3a40;left:881.60px;">$1,842</div>
<div class="t" style="top:820.51px;font-size:10.5px;color:#a88af5;right:47.80px;text-align:right;">View Details</div>
<div class="b" style="left:209px;top:934.0px;width:838px;height:1px;background:#e8ecf5;"></div>
<div class="b cov" style="left:223.6px;top:877.25px;width:31.4px;height:41.8px;"><svg width="33.4" height="43.8" viewBox="-1 -1 33 43.6" preserveAspectRatio="none" style="position:absolute;left:-1px;top:-1px;filter:blur(1px)">
<defs>
<radialGradient id="c4a" cx="0.45" cy="0.3" r="0.75"><stop offset="0" stop-color="#56a866"/><stop offset="0.4" stop-color="#2a7040"/><stop offset="0.8" stop-color="#103a22"/><stop offset="1" stop-color="#07200f"/></radialGradient>
</defs>
<rect x="-2" y="-2" width="35" height="46" fill="url(#c4a)"/>
<circle cx="15" cy="8" r="7" fill="#d4d888" opacity="0.85"/>
<path d="M19 8 C20 7 26 7 28 9 L29 30 L19 30 Z" fill="#0c2216"/>
<circle cx="22.4" cy="5.6" r="2.6" fill="#18281a"/>
<path d="M9 12 C10 9 15 9 17 12 L18 28 L8 28 Z" fill="#182818"/>
<ellipse cx="12" cy="13.6" rx="2.2" ry="3" fill="#7a6a48"/>
<path d="M10 17 L16.5 17 L17 27 L10 27 Z" fill="#3a7a6a"/>
<rect x="-2" y="25" width="35" height="19" fill="#082414" opacity="0.45"/>
</svg><svg width="31.4" height="41.8" viewBox="0 0 31 41.6" preserveAspectRatio="none" style="position:absolute;left:0;top:0;opacity:0.92"><text x="15.5" y="28.6" font-size="2.8" fill="#dcdab4" textLength="20" font-family="Liberation Serif, serif" font-weight="700" text-anchor="middle" lengthAdjust="spacingAndGlyphs">HE CALLED HER</text>
<text x="15.5" y="31.9" font-size="3.2" fill="#e8e4bc" textLength="12" font-family="Liberation Serif, serif" font-weight="700" text-anchor="middle" lengthAdjust="spacingAndGlyphs">'HOME'</text>
<text x="15.5" y="35.2" font-size="2.8" fill="#dcdab4" textLength="19" font-family="Liberation Serif, serif" font-weight="700" text-anchor="middle" lengthAdjust="spacingAndGlyphs">BUT I WAS HIS</text>
<text x="15.5" y="39.4" font-size="4.4" fill="#e8e4bc" textLength="12" font-family="Liberation Serif, serif" font-weight="700" text-anchor="middle" lengthAdjust="spacingAndGlyphs">MATE</text>
</svg></div>
<div class="t" style="top:883.22px;font-size:12.2px;color:#2d2d33;font-weight:700;left:265.20px;">He Called Her 'Home'—But I Was His Mate</div>
<div class="t" style="top:902.86px;font-size:10.5px;color:#6e6e76;left:265.20px;">Fantasy</div>
<div class="t" style="top:884.98px;font-size:10.6px;color:#35353b;left:542.00px;">8,452</div>
<div class="t" style="top:904.05px;font-size:9.1px;color:#22c55e;left:542.00px;">+13.4%</div>
<div class="t" style="top:884.98px;font-size:10.6px;color:#35353b;left:637.40px;">6,789</div>
<div class="t" style="top:904.05px;font-size:9.1px;color:#22c55e;left:637.40px;">+10.5%</div>
<div class="t" style="top:893.26px;font-size:10.5px;color:#3a3a40;left:728.60px;">60.5%</div>
<div class="b" style="left:768.2px;top:895.15px;width:71.5px;height:4.6px;border-radius:3px;background:#e6e8ec;"></div>
<div class="b" style="left:768.2px;top:895.15px;width:42.2px;height:4.6px;border-radius:3px;background:#9470f6;"></div>
<div class="t" style="top:893.26px;font-size:10.5px;color:#3a3a40;left:881.60px;">$1,842</div>
<div class="t" style="top:893.26px;font-size:10.5px;color:#a88af5;right:47.80px;text-align:right;">View Details</div>
<div class="b" style="left:194px;top:95px;width:129px;height:118px;background:#fff;border-radius:8px;box-shadow:0 8px 24px rgba(0,0,0,.09),0 2px 6px rgba(0,0,0,.05);"></div>
<div class="b" style="left:194px;top:101px;width:129px;height:26px;background:#f7f8fa;"></div>
<div class="t" style="top:108.80px;font-size:10.75px;color:#3b3b42;left:206.80px;">Last 7 days</div>
<div class="t" style="top:135.63px;font-size:10.75px;color:#3b3b42;left:206.80px;">Last 30 days</div>
<div class="t" style="top:162.46px;font-size:10.75px;color:#3b3b42;left:206.80px;">Last 90 days</div>
<div class="t" style="top:189.29px;font-size:10.75px;color:#3b3b42;left:206.80px;">Custom range</div>
</body></html>
